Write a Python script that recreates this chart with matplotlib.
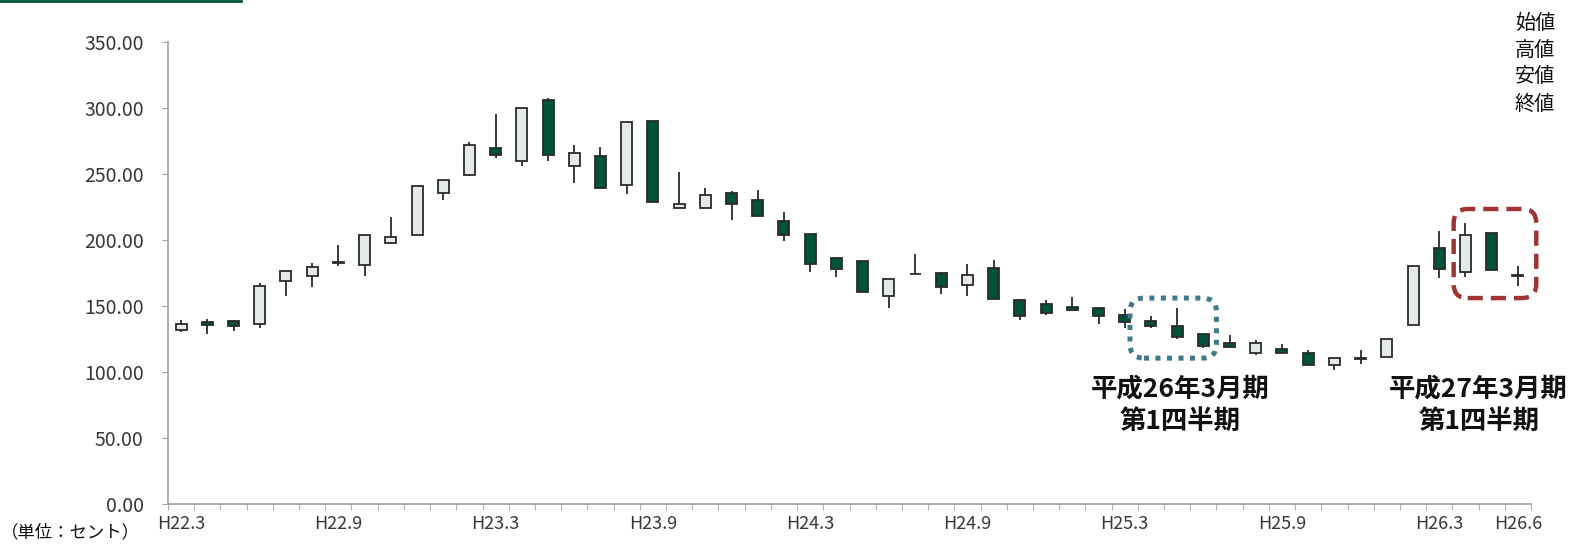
import numpy as np
import matplotlib
matplotlib.use("Agg")
import matplotlib.pyplot as plt
from matplotlib.patches import FancyBboxPatch
from matplotlib.transforms import IdentityTransform

plt.rcParams['font.family'] = ['Noto Sans CJK JP', 'DejaVu Sans']

# monthly candles, H22.3 .. H26.6 (cents)
opens = [131.8, 137.9, 138.6, 136.4, 168.7, 172.5, 183.6, 181.3, 198.0, 203.8,
         235.6, 249.2, 270.0, 260.1, 306.0, 256.3, 263.9, 241.7, 290.4, 224.0,
         224.0, 235.8, 230.3, 214.4, 204.8, 186.1, 184.1, 157.8, 174.6, 174.8,
         165.7, 178.5, 154.3, 151.5, 149.5, 148.2, 143.4, 138.6, 134.8, 129.0,
         122.0, 114.2, 117.4, 114.6, 105.5, 110.4, 111.4, 135.6, 193.9, 175.5,
         205.1, 173.2]
highs = [139.4, 139.9, 139.1, 167.7, 176.8, 182.6, 196.0, 203.8, 217.7, 240.9,
         245.7, 274.0, 295.2, 300.2, 307.3, 272.0, 270.2, 289.4, 290.4, 251.7,
         239.6, 237.1, 238.1, 221.4, 204.8, 186.1, 184.1, 170.7, 189.6, 175.8,
         181.8, 184.8, 155.3, 154.3, 156.6, 148.2, 147.5, 142.4, 148.7, 129.0,
         128.0, 124.2, 121.2, 116.7, 110.6, 116.7, 125.0, 180.5, 207.0, 212.6,
         205.1, 180.5]
lows = [130.5, 128.5, 131.3, 133.6, 157.8, 164.6, 180.3, 172.5, 197.0, 203.8,
        230.5, 248.2, 261.9, 256.0, 259.8, 243.2, 238.4, 234.6, 229.0, 224.0,
        224.0, 215.2, 218.2, 199.5, 176.0, 172.2, 160.6, 148.7, 174.0, 158.9,
        157.6, 155.1, 139.4, 143.0, 146.2, 136.4, 133.6, 133.3, 125.2, 118.0,
        119.0, 113.1, 114.4, 105.3, 101.5, 106.0, 111.4, 135.6, 171.0, 172.2,
        177.3, 165.2]
closes = [136.6, 135.6, 134.8, 165.2, 176.8, 179.5, 182.8, 203.8, 202.0, 240.9,
          245.7, 272.0, 264.6, 300.2, 264.6, 265.9, 239.6, 289.4, 229.0, 227.0,
          234.0, 227.0, 218.2, 203.8, 182.0, 178.3, 160.6, 170.7, 174.0, 164.6,
          173.7, 155.1, 142.4, 144.4, 147.2, 142.7, 137.9, 134.8, 126.7, 119.7,
          119.0, 122.2, 114.4, 105.3, 110.6, 110.0, 125.0, 180.5, 178.3, 203.8,
          177.3, 172.9]

tick_pos = [0, 6, 12, 18, 24, 30, 36, 42, 48, 51]
tick_labels = ["H22.3", "H22.9", "H23.3", "H23.9", "H24.3", "H24.9",
               "H25.3", "H25.9", "H26.3", "H26.6"]
y_ticks = [0, 50, 100, 150, 200, 250, 300, 350]
legend_lines = ["始値", "高値", "安値", "終値"]

green = "#00523A"
light = "#E4EAE6"
edge = "#2b2b2b"

W, H = 1574, 548
fig = plt.figure(figsize=(W / 100, H / 100), dpi=100)
ax = fig.add_axes([168 / W, 1 - 504 / H, (1531 - 168) / W, (504 - 42) / H])

x = np.arange(len(opens))
o = np.array(opens)
c = np.array(closes)
up = c >= o
body_lo = np.minimum(o, c)
body_h = np.maximum(np.abs(c - o), 0.4)
colors = [light if u else green for u in up]

ax.vlines(x, lows, highs, color=edge, lw=1.3, zorder=1)
ax.bar(x, body_h, bottom=body_lo, width=0.42, color=colors,
       edgecolor=edge, linewidth=1.3, zorder=2)

ax.set_xlim(-0.5, len(opens) - 0.5)
ax.set_ylim(0, 350)
for s in ["top", "right"]:
    ax.spines[s].set_visible(False)
for s in ["left", "bottom"]:
    ax.spines[s].set_color("#a0a0a0")
    ax.spines[s].set_linewidth(1.2)

ax.set_yticks(y_ticks)
ax.set_yticklabels([f"{v:.2f}" for v in y_ticks])
ax.tick_params(axis="y", length=4.5, color="#a0a0a0", pad=13,
               labelsize=14, labelcolor="#383838")
ax.set_xticks(tick_pos)
ax.set_xticklabels(tick_labels)
ax.set_xticks(np.arange(-0.5, len(opens), 1), minor=True)
ax.tick_params(axis="x", which="major", length=0, pad=8,
               labelsize=13, labelcolor="#383838")
ax.tick_params(axis="x", which="minor", length=4.5, color="#a0a0a0")

# callout texts
ax.text(38.1, 75, "平成26年3月期\n第1四半期", ha="center", va="center",
        fontsize=19, fontweight="bold", linespacing=1.25, color="#111111")
ax.text(49.5, 75, "平成27年3月期\n第1四半期", ha="center", va="center",
        fontsize=19, fontweight="bold", linespacing=1.25, color="#111111")

# rounded highlight boxes, drawn in pixel space around candle ranges
fig.canvas.draw()


def box(x0, x1, y0, y1, color, dashes, lw):
    (px0, py0) = ax.transData.transform((x0, y0))
    (px1, py1) = ax.transData.transform((x1, y1))
    p = FancyBboxPatch((px0, py0), px1 - px0, py1 - py0,
                       boxstyle="round,pad=0,rounding_size=14",
                       transform=IdentityTransform(), fill=False,
                       edgecolor=color, linewidth=lw, zorder=5)
    p.set_linestyle((0, dashes))
    p.set_capstyle("butt")
    fig.add_artist(p)


box(36.2, 39.5, 110.5, 156, "#3F7A8A", (1.0, 1.3), 3.6)
box(48.55, 51.7, 156, 223.5, "#A03434", (3.4, 1.8), 3.2)

# legend-style labels top right
for i, t in enumerate(legend_lines):
    fig.text(1535 / W, 1 - (23 + 27 * i) / H, t, ha="center", va="center",
             fontsize=14.5, color="#111111")

fig.text(1 / W, 1 - 532 / H, "（単位：セント）", ha="left", va="center",
         fontsize=12.5, color="#111111")

# thin green bar at top-left edge
fig.add_artist(plt.Line2D([0, 241 / W], [1 - 1 / H, 1 - 1 / H],
                          color=green, lw=2, transform=fig.transFigure))

fig.savefig("out.png", dpi=100)
